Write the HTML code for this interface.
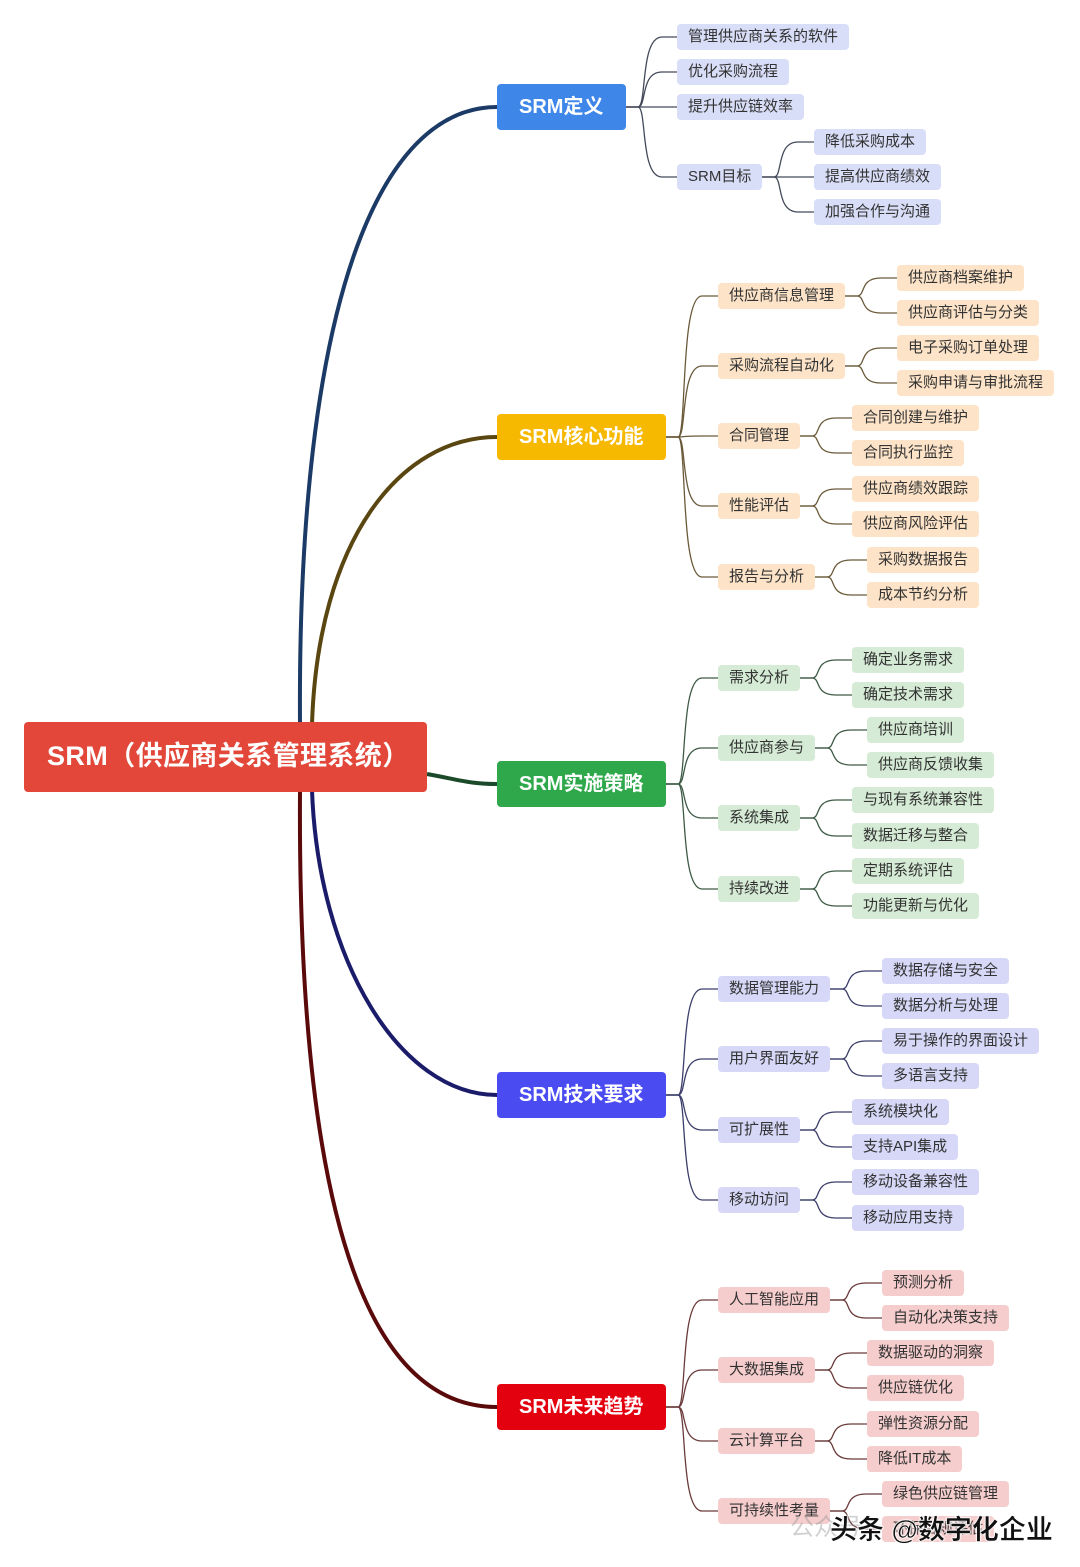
<!DOCTYPE html>
<html><head><meta charset="utf-8">
<style>
body{margin:0;width:1080px;height:1567px;background:#fff;position:relative;overflow:hidden;font-family:"Liberation Sans","Noto Sans CJK SC",sans-serif;}
svg{position:absolute;left:0;top:0}
.n{position:absolute;white-space:nowrap;box-sizing:border-box;color:#333;}
.l2,.l3{height:26px;line-height:26px;font-size:15px;padding:0 11px 0 11px;border-radius:4px;margin-top:-13px;min-width:0}
.br{height:46px;line-height:46px;font-size:20px;font-weight:bold;color:#fff;padding:0 23px 0 22px;border-radius:4px;margin-top:-23px}
.root{left:24px;top:722px;width:403px;height:70px;line-height:68px;background:#e2473a;color:#fff;font-size:27px;font-weight:bold;padding-left:23px;border-radius:4px;letter-spacing:0.4px}
.wm{position:absolute;left:830px;top:1508px;font-size:27px;color:#111;font-weight:bold;-webkit-text-stroke:0.5px #fff;text-shadow:0 0 2px #fff,0 0 2px #fff}
.wm2{position:absolute;left:790px;top:1507px;font-size:24px;color:rgba(150,150,150,0.45)}
</style></head><body>
<svg id="lines" width="1080" height="1567"></svg>
<div class="n root">SRM（供应商关系管理系统）</div>
<div id="nodes"></div>
<div class="wm2">公众号</div>
<div class="wm">头条 @数字化企业</div>
<script>
const branches=[
 {t:"SRM定义",y:107,c:"#3f86e9",bg:"#d8def7",line:"#1c3a66",conn:"#444a5a",lx:677,path:"M300 724 C297 300 380 107 497 107",
  kids:[{t:"管理供应商关系的软件",y:37},{t:"优化采购流程",y:72},{t:"提升供应链效率",y:107},{t:"SRM目标",y:177,x3:814,k:[["降低采购成本",142],["提高供应商绩效",177],["加强合作与沟通",212]]}]},
 {t:"SRM核心功能",y:437,c:"#f7b800",bg:"#fde4c8",line:"#5a4610",conn:"#6b5a3a",lx:718,path:"M312 724 C318 540 400 437 497 437",
  kids:[{t:"供应商信息管理",y:296,x3:897,k:[["供应商档案维护",278],["供应商评估与分类",313]]},{t:"采购流程自动化",y:366,x3:897,k:[["电子采购订单处理",348],["采购申请与审批流程",383]]},{t:"合同管理",y:436,x3:852,k:[["合同创建与维护",418],["合同执行监控",453]]},{t:"性能评估",y:506,x3:852,k:[["供应商绩效跟踪",489],["供应商风险评估",524]]},{t:"报告与分析",y:577,x3:867,k:[["采购数据报告",560],["成本节约分析",595]]}]},
 {t:"SRM实施策略",y:784,c:"#2ea84b",bg:"#d5ebd5",line:"#1b4a2a",conn:"#3d5a45",lx:718,path:"M427 774 C460 780 470 784 497 784",
  kids:[{t:"需求分析",y:678,x3:852,k:[["确定业务需求",660],["确定技术需求",695]]},{t:"供应商参与",y:748,x3:867,k:[["供应商培训",730],["供应商反馈收集",765]]},{t:"系统集成",y:818,x3:852,k:[["与现有系统兼容性",800],["数据迁移与整合",836]]},{t:"持续改进",y:889,x3:852,k:[["定期系统评估",871],["功能更新与优化",906]]}]},
 {t:"SRM技术要求",y:1095,c:"#4a4cf2",bg:"#d7d8f8",line:"#1a1c6a",conn:"#3c3e6a",lx:718,path:"M312 790 C318 960 400 1095 497 1095",
  kids:[{t:"数据管理能力",y:989,x3:882,k:[["数据存储与安全",971],["数据分析与处理",1006]]},{t:"用户界面友好",y:1059,x3:882,k:[["易于操作的界面设计",1041],["多语言支持",1076]]},{t:"可扩展性",y:1130,x3:852,k:[["系统模块化",1112],["支持API集成",1147]]},{t:"移动访问",y:1200,x3:852,k:[["移动设备兼容性",1182],["移动应用支持",1218]]}]},
 {t:"SRM未来趋势",y:1407,c:"#e3000f",bg:"#f6cdcd",line:"#5a0a0a",conn:"#6a3a3a",lx:718,path:"M300 790 C297 1250 380 1407 497 1407",
  kids:[{t:"人工智能应用",y:1300,x3:882,k:[["预测分析",1283],["自动化决策支持",1318]]},{t:"大数据集成",y:1370,x3:867,k:[["数据驱动的洞察",1353],["供应链优化",1388]]},{t:"云计算平台",y:1441,x3:867,k:[["弹性资源分配",1424],["降低IT成本",1459]]},{t:"可持续性考量",y:1511,x3:882,k:[["绿色供应链管理",1494],["环保合规评估",1529]]}]}
];
const svg=document.getElementById('lines'),host=document.getElementById('nodes');
const NS="http://www.w3.org/2000/svg";
function path(d,col,w){const p=document.createElementNS(NS,'path');p.setAttribute('d',d);p.setAttribute('stroke',col);p.setAttribute('stroke-width',w);p.setAttribute('fill','none');


svg.appendChild(p);}
function box(cls,t,x,y,bg){const d=document.createElement('div');d.className='n '+cls;d.textContent=t;d.style.left=x+'px';d.style.top=y+'px';d.style.background=bg;


host.appendChild(d);return d;}
function conn(x1,y1,x2,y2,col){const xf=x1+12,xe=Math.min(xf+24,x2);
path(`M${x1} ${y1} L${xf} ${y1} C${xf+9} ${y1} ${xf+2} ${y2} ${xe} ${y2} L${x2} ${y2}`,col,1.3);}
branches.forEach(b=>{
 path(b.path,b.line,4);
 const bb=box('br',b.t,497,b.y,b.c);
 const bx=497+bb.offsetWidth;
 b.kids.forEach(k=>{
  const e=box('l2',k.t,b.lx,k.y,b.bg);
  conn(bx,b.y,b.lx,k.y,b.conn);
  if(k.k){const ex=b.lx+e.offsetWidth;
   k.k.forEach(s=>{box('l3',s[0],k.x3,s[1],b.bg);conn(ex,k.y,k.x3,s[1],b.conn);});}
 });
});
document.body.insertBefore(svg,document.body.firstChild);
</script>
</body></html>
